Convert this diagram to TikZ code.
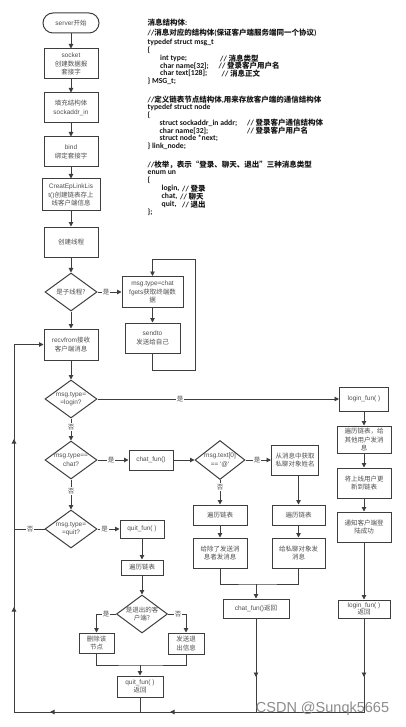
\documentclass[tikz,border=0pt]{standalone}
\usepackage{fontspec}
\setmainfont{Carlito}
\newfontfamily\zhf{Noto Sans CJK SC}
\newfontfamily\flowlat{Liberation Sans}
\newfontfamily\wmlat{Liberation Sans}
\usetikzlibrary{shapes.geometric,arrows.meta}
\definecolor{linec}{RGB}{62,62,62}
\definecolor{textc}{RGB}{78,78,78}
\definecolor{codec}{RGB}{22,22,22}
\newcommand\zh[1]{{\zhf #1}}
\newcommand\zc[1]{{\zhf\fontsize{7.5}{8}\selectfont #1}}
\newcommand\flowfont{\flowlat\fontsize{6.5}{8.6}\selectfont}
\newcommand\codefont{\fontsize{7.7}{8}\selectfont\bfseries}
\tikzset{
  box/.style={draw=linec,line width=1pt,fill=white,inner sep=0pt,align=center,font=\flowfont,text=textc},
  sz/.style n args={2}{minimum width=#1,minimum height=#2},
  dia/.style={diamond,draw=linec,line width=1pt,fill=white,inner sep=0pt,minimum width=52,minimum height=38},
  dtext/.style={inner sep=0pt,align=center,font=\flowfont,text=textc},
  line/.style={draw=linec,line width=0.95pt},
  arr/.style={line,-{Triangle[length=4.5pt,width=4.5pt]}},
  lab/.style={fill=white,inner sep=0.8pt,font=\flowfont,text=textc},
  code/.style={anchor=west,inner sep=0pt,font=\codefont,text=codec},
}
\begin{document}
\begin{tikzpicture}[x=1pt,y=-1pt]
\useasboundingbox (0,0) rectangle (405,727);
\fill[white] (0,0) rectangle (405,727);

% ---------- code text ----------
\node[code] (c1) at (147.5,22.7) {\zc{消息结构体}:};
\node[code] (c2) at (147.5,32.5) {//\zc{消息对应的结构体}(\zc{保证客户端服务端同一个协议})};
\node[code] (c3) at (147.5,42.3) {typedef struct msg\_t};
\node[code] (c4) at (147.5,50.5) {\{};
\node[code] (c5) at (160,58.3) {int type;};
\node[code] (c5c) at (220,58.3) {// \zc{消息类型}};
\node[code] (c6) at (160,65.9) {char name[32];};
\node[code] (c6c) at (218.5,65.9) {// \zc{登录客户用户名}};
\node[code] (c7) at (160,73.5) {char text[128];};
\node[code] (c7c) at (221.5,73.5) {// \zc{消息正文}};
\node[code] (c8) at (147.5,81.2) {\} MSG\_t;};
\node[code] (c10) at (147.5,100.2) {//\zc{定义链表节点结构体},\zc{用来存放客户端的通信结构体}};
\node[code] (c11) at (147.5,107.9) {typedef struct node};
\node[code] (c12) at (147.5,115.7) {\{};
\node[code] (c13) at (159.5,123) {struct sockaddr\_in addr;};
\node[code] (c13c) at (247,123) {// \zc{登录客户通信结构体}};
\node[code] (c14) at (159.5,130.8) {char name[32];};
\node[code] (c14c) at (247,130.8) {// \zc{登录客户用户名}};
\node[code] (c15) at (159.5,138.4) {struct node *next;};
\node[code] (c16) at (147.5,146) {\} link\_node;};
\node[code] (c18) at (147.5,164.5) {//\zc{枚举，表示“登录、聊天、退出”三种消息类型}};
\node[code] (c19) at (147.5,172.3) {enum un};
\node[code] (c20) at (147.5,180.5) {\{};
\node[code] (c21) at (161.5,188.8) {login,};
\node[code] (c21c) at (182,188.8) {// \zc{登录}};
\node[code] (c22) at (161.5,196.6) {chat,};
\node[code] (c22c) at (180,196.6) {// \zc{聊天}};
\node[code] (c23) at (161.5,204.4) {quit,};
\node[code] (c23c) at (182,204.4) {// \zc{退出}};
\node[code] (c24) at (147.5,212.3) {\};};

% ---------- left column ----------
\node[box,sz={56}{20},rounded corners=10pt] (start) at (71,23) {server\zh{开始}};
\node[box,sz={54}{30}] (socket) at (71,64) {socket\\\zh{创建数据报}\\\zh{套接字}};
\node[box,sz={54}{30}] (fill) at (71,108) {\zh{填充结构体}\\sockaddr\_in};
\node[box,sz={54}{30}] (bind) at (71,152) {bind\\\zh{绑定套接字}};
\node[box,sz={58}{32}] (creat) at (71,195) {CreatEpLinkLis\\t()\zh{创建链表存上}\\\zh{线客户端信息}};
\node[box,sz={54}{30}] (thread) at (71,242) {\zh{创建线程}};
\node[dia] (dchild) at (71,292) {};
\node[dtext] (dchildt) at (dchild) {\zh{是子线程?}};
\node[box,sz={61}{31}] (chatbox) at (152.5,292) {msg.type=chat\\fgets\zh{获取终端数}\\\zh{据}};
\node[box,sz={55}{30}] (sendto) at (152.5,338) {sendto\\\zh{发送给自己}};
\node[box,sz={54}{31}] (recv) at (71,344.5) {recvfrom\zh{接收}\\\zh{客户端消息}};
\node[dia] (dlogin) at (71,399) {};
\node[dtext] (dlogint) at (dlogin) {msg.type=\\=login?};
\node[dia] (dchat) at (71,460) {};
\node[dtext] (dchatt) at (dchat) {msg.type==\\chat?};
\node[dia] (dquit) at (71,529) {};
\node[dtext] (dquitt) at (dquit) {msg.type=\\=quit?};

% ---------- login branch ----------
\node[box,sz={49}{24}] (loginfun) at (364,399) {login\_fun( )};
\node[box,sz={54}{27}] (l1) at (364,439.5) {\zh{遍历链表，给}\\\zh{其他用户发消}\\\zh{息}};
\node[box,sz={54}{30}] (l2) at (364,483) {\zh{将上线用户更}\\\zh{新到链表}};
\node[box,sz={54}{30}] (l3) at (364,527) {\zh{通知客户端登}\\\zh{陆成功}};
\node[box,sz={52}{18},font=\flowlat\fontsize{6.5}{7.6}\selectfont] (l4) at (364,609) {login\_fun( )\\\zh{返回}};

% ---------- chat branch ----------
\node[box,sz={44}{20}] (chatfun) at (151,460) {chat\_fun()};
\node[dia,minimum width=50,minimum height=39] (dat) at (220,460) {};
\node[dtext] (datt) at (dat) {msg.text[0]\\== '@'};
\node[box,sz={47}{30}] (getname) at (295,460) {\zh{从消息中获取}\\\zh{私聊对象姓名}};
\node[box,sz={54}{20}] (trav1) at (220,515) {\zh{遍历链表}};
\node[box,sz={53}{20}] (trav2) at (298.5,515) {\zh{遍历链表}};
\node[box,sz={54}{30}] (send1) at (220,553) {\zh{给除了发送消}\\\zh{息者发消息}};
\node[box,sz={53}{30}] (send2) at (298.5,553) {\zh{给私聊对象发}\\\zh{消息}};
\node[box,sz={66}{19}] (chatret) at (256,608.5) {chat\_fun()\zh{返回}};

% ---------- quit branch ----------
\node[box,sz={44}{18}] (quitfun) at (142,529) {quit\_fun( )};
\node[box,sz={42}{15}] (trav3) at (142,567.5) {\zh{遍历链表}};
\node[dia,minimum width=51] (dqc) at (142,614) {};
\node[dtext] (dqct) at (dqc) {\zh{是退出的客}\\\zh{户端?}};
\node[box,sz={35}{20}] (del) at (96.5,643) {\zh{删除该}\\\zh{节点}};
\node[box,sz={36}{21}] (sendq) at (186,643.5) {\zh{发送退}\\\zh{出信息}};
\node[box,sz={46}{21},font=\flowlat\fontsize{6.5}{8}\selectfont] (quitret) at (140,686.5) {quit\_fun( )\\\zh{返回}};

% ---------- coordinates ----------
\coordinate (lpR) at (195,370);
\coordinate (lpT) at (195,259);
\coordinate (mgC) at (256,584);
\coordinate (mgQ) at (140,665);
\coordinate (a1) at (364,677);
\coordinate (a2) at (256,677);
\coordinate (bR) at (364,712);
\coordinate (bM) at (256,712);
\coordinate (bQ) at (140,712);
\coordinate (ar1) at (170,712);
\coordinate (ar2) at (50,712);
\coordinate (bL) at (14,712);
\coordinate (up1) at (14,607);
\coordinate (up2) at (14,439);
\coordinate (lT) at (14,344.5);
\coordinate (qL) at (14,529);

% ---------- connectors ----------
\draw[arr] (start) -- (socket);
\draw[arr] (socket) -- (fill);
\draw[arr] (fill) -- (bind);
\draw[arr] (bind) -- (creat);
\draw[arr] (creat) -- (thread);
\draw[arr] (thread) -- (dchild);
\draw[arr] (dchild) -- (recv);
\draw[arr] (dchild) -- (chatbox);
\draw[arr] (chatbox) -- (sendto);
\draw[arr] (sendto.south) |- (lpR) -- (lpT) -| (chatbox.north);
\draw[arr] (recv) -- (dlogin);
\draw[arr] (dlogin) -- (dchat);
\draw[arr] (dchat) -- (dquit);
\draw[arr] (dlogin) -- (loginfun);
\draw[arr] (loginfun) -- (l1);
\draw[arr] (l1) -- (l2);
\draw[arr] (l2) -- (l3);
\draw[arr] (l3) -- (l4);
\draw[arr] (dchat) -- (chatfun);
\draw[arr] (chatfun) -- (dat);
\draw[arr] (dat) -- (getname);
\draw[arr] (dat) -- (trav1);
\draw[arr] (trav2.north |- getname.south) -- (trav2.north);
\draw[arr] (trav1) -- (send1);
\draw[arr] (trav2) -- (send2);
\draw[line] (send1.south) |- (mgC) -| (send2.south);
\draw[arr] (mgC) -- (chatret.north);
\draw[arr] (dquit) -- (quitfun);
\draw[arr] (quitfun) -- (trav3);
\draw[arr] (trav3) -- (dqc);
\draw[arr] (dqc.west) -| (del.north);
\draw[arr] (dqc.east) -| (sendq.north);
\draw[line] (del.south) |- (mgQ) -| (sendq.south);
\draw[arr] (mgQ) -- (quitret.north);
\draw[line] (dquit.west) -- (qL);
% return lines
\draw[line] (l4.south) -- (bR) -- (bL) -- (lT);
\draw[line] (chatret.south) -- (bM);
\draw[line] (quitret.south) -- (bQ);
\draw[arr] (l4.south) -- (a1);
\draw[arr] (chatret.south) -- (a2);
\draw[arr] (bM) -- (ar1);
\draw[arr] (bQ) -- (ar2);
\draw[arr] (bL) -- (up1);
\draw[arr] (up1) -- (up2);
\draw[arr] (lT) -- (recv.west);

% ---------- edge labels ----------
\node[lab] (y1) at (106,292) {\zh{是}};
\node[lab] (y2) at (180,399) {\zh{是}};
\node[lab] (n1) at (71,427) {\zh{否}};
\node[lab] (y3) at (111,460) {\zh{是}};
\node[lab] (n2) at (71,491) {\zh{否}};
\node[lab] (y4) at (104.5,529) {\zh{是}};
\node[lab] (n3) at (30,529) {\zh{否}};
\node[lab] (y5) at (257,460) {\zh{是}};
\node[lab] (n4) at (220,487) {\zh{否}};
\node[lab] (y6) at (106,614) {\zh{是}};
\node[lab] (n5) at (178,614) {\zh{否}};

% ---------- watermark ----------
\node[inner sep=0pt,font=\wmlat\fontsize{14.5}{16}\selectfont,text=black!45] (wm) at (322.5,708.5) {CSDN @Sunqk5665};
\end{tikzpicture}
\end{document}
